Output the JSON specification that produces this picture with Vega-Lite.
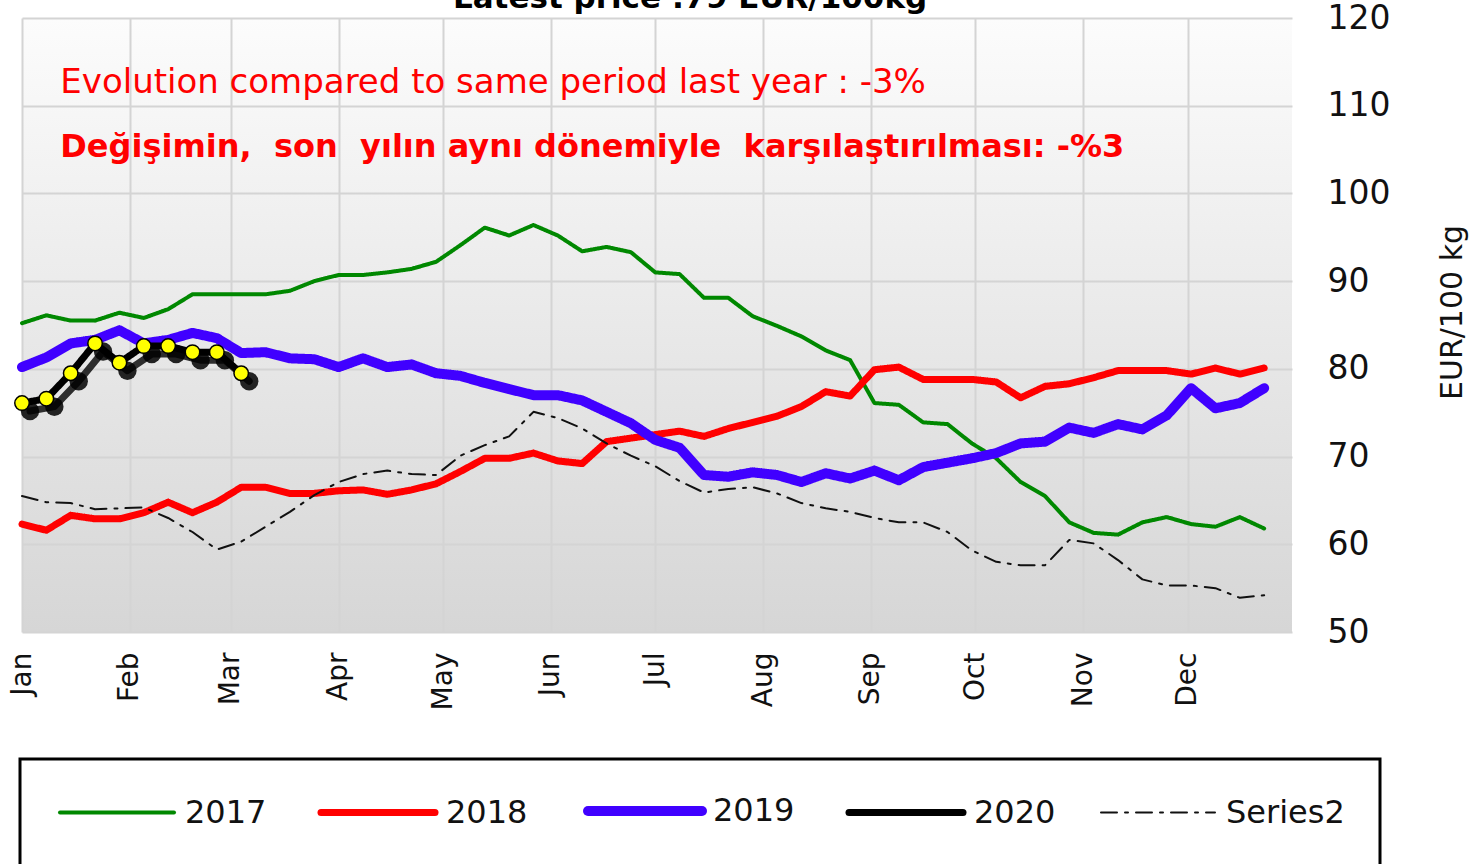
{
  "$schema": "https://vega.github.io/schema/vega-lite/v6.json",
  "width": 1270,
  "height": 614,
  "autosize": {"type": "none"},
  "padding": {"left": 22, "top": 18, "right": 191, "bottom": 232},
  "background": "white",
  "config": {
    "font": "DejaVu Sans",
    "view": {"stroke": null, "fill": {"gradient": "linear", "x1": 0, "y1": 0, "x2": 0, "y2": 1, "stops": [{"offset": 0, "color": "#fcfcfc"}, {"offset": 1, "color": "#d6d6d6"}]}}
  },
  "data": {"values": [
    {"d":"2020-01-01","s":"2017","v":85.2},{"d":"2020-01-08","s":"2017","v":86.1},{"d":"2020-01-15","s":"2017","v":85.5},{"d":"2020-01-22","s":"2017","v":85.5},{"d":"2020-01-29","s":"2017","v":86.4},{"d":"2020-02-05","s":"2017","v":85.8},{"d":"2020-02-12","s":"2017","v":86.8},{"d":"2020-02-19","s":"2017","v":88.5},{"d":"2020-02-26","s":"2017","v":88.5},{"d":"2020-03-04","s":"2017","v":88.5},{"d":"2020-03-11","s":"2017","v":88.5},{"d":"2020-03-18","s":"2017","v":88.9},{"d":"2020-03-25","s":"2017","v":90.0},{"d":"2020-04-01","s":"2017","v":90.7},{"d":"2020-04-08","s":"2017","v":90.7},{"d":"2020-04-15","s":"2017","v":91.0},{"d":"2020-04-22","s":"2017","v":91.4},{"d":"2020-04-29","s":"2017","v":92.2},{"d":"2020-05-06","s":"2017","v":94.1},{"d":"2020-05-13","s":"2017","v":96.1},{"d":"2020-05-20","s":"2017","v":95.2},{"d":"2020-05-27","s":"2017","v":96.4},{"d":"2020-06-03","s":"2017","v":95.2},{"d":"2020-06-10","s":"2017","v":93.4},{"d":"2020-06-17","s":"2017","v":93.9},{"d":"2020-06-24","s":"2017","v":93.3},{"d":"2020-07-01","s":"2017","v":91.0},{"d":"2020-07-08","s":"2017","v":90.8},{"d":"2020-07-15","s":"2017","v":88.1},{"d":"2020-07-22","s":"2017","v":88.1},{"d":"2020-07-29","s":"2017","v":86.0},{"d":"2020-08-05","s":"2017","v":84.9},{"d":"2020-08-12","s":"2017","v":83.7},{"d":"2020-08-19","s":"2017","v":82.1},{"d":"2020-08-26","s":"2017","v":81.0},{"d":"2020-09-02","s":"2017","v":76.1},{"d":"2020-09-09","s":"2017","v":75.9},{"d":"2020-09-16","s":"2017","v":73.9},{"d":"2020-09-23","s":"2017","v":73.7},{"d":"2020-09-30","s":"2017","v":71.5},{"d":"2020-10-07","s":"2017","v":69.8},{"d":"2020-10-14","s":"2017","v":67.1},{"d":"2020-10-21","s":"2017","v":65.5},{"d":"2020-10-28","s":"2017","v":62.5},{"d":"2020-11-04","s":"2017","v":61.3},{"d":"2020-11-11","s":"2017","v":61.1},{"d":"2020-11-18","s":"2017","v":62.5},{"d":"2020-11-25","s":"2017","v":63.1},{"d":"2020-12-02","s":"2017","v":62.3},{"d":"2020-12-09","s":"2017","v":62.0},{"d":"2020-12-16","s":"2017","v":63.1},{"d":"2020-12-23","s":"2017","v":61.8},
    {"d":"2020-01-01","s":"2018","v":62.3},{"d":"2020-01-08","s":"2018","v":61.6},{"d":"2020-01-15","s":"2018","v":63.3},{"d":"2020-01-22","s":"2018","v":62.9},{"d":"2020-01-29","s":"2018","v":62.9},{"d":"2020-02-05","s":"2018","v":63.6},{"d":"2020-02-12","s":"2018","v":64.8},{"d":"2020-02-19","s":"2018","v":63.6},{"d":"2020-02-26","s":"2018","v":64.8},{"d":"2020-03-04","s":"2018","v":66.5},{"d":"2020-03-11","s":"2018","v":66.5},{"d":"2020-03-18","s":"2018","v":65.8},{"d":"2020-03-25","s":"2018","v":65.8},{"d":"2020-04-01","s":"2018","v":66.1},{"d":"2020-04-08","s":"2018","v":66.2},{"d":"2020-04-15","s":"2018","v":65.7},{"d":"2020-04-22","s":"2018","v":66.2},{"d":"2020-04-29","s":"2018","v":66.9},{"d":"2020-05-06","s":"2018","v":68.3},{"d":"2020-05-13","s":"2018","v":69.8},{"d":"2020-05-20","s":"2018","v":69.8},{"d":"2020-05-27","s":"2018","v":70.4},{"d":"2020-06-03","s":"2018","v":69.5},{"d":"2020-06-10","s":"2018","v":69.2},{"d":"2020-06-17","s":"2018","v":71.7},{"d":"2020-06-24","s":"2018","v":72.1},{"d":"2020-07-01","s":"2018","v":72.5},{"d":"2020-07-08","s":"2018","v":72.9},{"d":"2020-07-15","s":"2018","v":72.3},{"d":"2020-07-22","s":"2018","v":73.2},{"d":"2020-07-29","s":"2018","v":73.9},{"d":"2020-08-05","s":"2018","v":74.6},{"d":"2020-08-12","s":"2018","v":75.7},{"d":"2020-08-19","s":"2018","v":77.4},{"d":"2020-08-26","s":"2018","v":76.9},{"d":"2020-09-02","s":"2018","v":79.9},{"d":"2020-09-09","s":"2018","v":80.2},{"d":"2020-09-16","s":"2018","v":78.8},{"d":"2020-09-23","s":"2018","v":78.8},{"d":"2020-09-30","s":"2018","v":78.8},{"d":"2020-10-07","s":"2018","v":78.5},{"d":"2020-10-14","s":"2018","v":76.7},{"d":"2020-10-21","s":"2018","v":78.0},{"d":"2020-10-28","s":"2018","v":78.3},{"d":"2020-11-04","s":"2018","v":79.0},{"d":"2020-11-11","s":"2018","v":79.8},{"d":"2020-11-18","s":"2018","v":79.8},{"d":"2020-11-25","s":"2018","v":79.8},{"d":"2020-12-02","s":"2018","v":79.4},{"d":"2020-12-09","s":"2018","v":80.1},{"d":"2020-12-16","s":"2018","v":79.4},{"d":"2020-12-23","s":"2018","v":80.1},
    {"d":"2020-01-01","s":"2019","v":80.2},{"d":"2020-01-08","s":"2019","v":81.3},{"d":"2020-01-15","s":"2019","v":82.9},{"d":"2020-01-22","s":"2019","v":83.3},{"d":"2020-01-29","s":"2019","v":84.4},{"d":"2020-02-05","s":"2019","v":82.9},{"d":"2020-02-12","s":"2019","v":83.3},{"d":"2020-02-19","s":"2019","v":84.1},{"d":"2020-02-26","s":"2019","v":83.5},{"d":"2020-03-04","s":"2019","v":81.8},{"d":"2020-03-11","s":"2019","v":81.9},{"d":"2020-03-18","s":"2019","v":81.2},{"d":"2020-03-25","s":"2019","v":81.1},{"d":"2020-04-01","s":"2019","v":80.2},{"d":"2020-04-08","s":"2019","v":81.2},{"d":"2020-04-15","s":"2019","v":80.2},{"d":"2020-04-22","s":"2019","v":80.5},{"d":"2020-04-29","s":"2019","v":79.5},{"d":"2020-05-06","s":"2019","v":79.2},{"d":"2020-05-13","s":"2019","v":78.4},{"d":"2020-05-20","s":"2019","v":77.7},{"d":"2020-05-27","s":"2019","v":77.0},{"d":"2020-06-03","s":"2019","v":77.0},{"d":"2020-06-10","s":"2019","v":76.4},{"d":"2020-06-17","s":"2019","v":75.1},{"d":"2020-06-24","s":"2019","v":73.8},{"d":"2020-07-01","s":"2019","v":71.9},{"d":"2020-07-08","s":"2019","v":71.0},{"d":"2020-07-15","s":"2019","v":67.9},{"d":"2020-07-22","s":"2019","v":67.7},{"d":"2020-07-29","s":"2019","v":68.2},{"d":"2020-08-05","s":"2019","v":67.9},{"d":"2020-08-12","s":"2019","v":67.1},{"d":"2020-08-19","s":"2019","v":68.1},{"d":"2020-08-26","s":"2019","v":67.5},{"d":"2020-09-02","s":"2019","v":68.4},{"d":"2020-09-09","s":"2019","v":67.3},{"d":"2020-09-16","s":"2019","v":68.8},{"d":"2020-09-23","s":"2019","v":69.3},{"d":"2020-09-30","s":"2019","v":69.8},{"d":"2020-10-07","s":"2019","v":70.4},{"d":"2020-10-14","s":"2019","v":71.5},{"d":"2020-10-21","s":"2019","v":71.7},{"d":"2020-10-28","s":"2019","v":73.3},{"d":"2020-11-04","s":"2019","v":72.7},{"d":"2020-11-11","s":"2019","v":73.7},{"d":"2020-11-18","s":"2019","v":73.1},{"d":"2020-11-25","s":"2019","v":74.7},{"d":"2020-12-02","s":"2019","v":77.8},{"d":"2020-12-09","s":"2019","v":75.5},{"d":"2020-12-16","s":"2019","v":76.1},{"d":"2020-12-23","s":"2019","v":77.8},
    {"d":"2020-01-01","s":"2020","v":76.1},{"d":"2020-01-08","s":"2020","v":76.6},{"d":"2020-01-15","s":"2020","v":79.5},{"d":"2020-01-22","s":"2020","v":82.9},{"d":"2020-01-29","s":"2020","v":80.7},{"d":"2020-02-05","s":"2020","v":82.6},{"d":"2020-02-12","s":"2020","v":82.6},{"d":"2020-02-19","s":"2020","v":81.9},{"d":"2020-02-26","s":"2020","v":81.9},{"d":"2020-03-04","s":"2020","v":79.5},
    {"d":"2020-01-01","s":"Series2","v":65.5},{"d":"2020-01-08","s":"Series2","v":64.8},{"d":"2020-01-15","s":"Series2","v":64.7},{"d":"2020-01-22","s":"Series2","v":64.0},{"d":"2020-01-29","s":"Series2","v":64.1},{"d":"2020-02-05","s":"Series2","v":64.2},{"d":"2020-02-12","s":"Series2","v":63.0},{"d":"2020-02-19","s":"Series2","v":61.4},{"d":"2020-02-26","s":"Series2","v":59.4},{"d":"2020-03-04","s":"Series2","v":60.3},{"d":"2020-03-11","s":"Series2","v":62.0},{"d":"2020-03-18","s":"Series2","v":63.7},{"d":"2020-03-25","s":"Series2","v":65.6},{"d":"2020-04-01","s":"Series2","v":67.1},{"d":"2020-04-08","s":"Series2","v":68.0},{"d":"2020-04-15","s":"Series2","v":68.4},{"d":"2020-04-22","s":"Series2","v":68.0},{"d":"2020-04-29","s":"Series2","v":67.9},{"d":"2020-05-06","s":"Series2","v":70.1},{"d":"2020-05-13","s":"Series2","v":71.3},{"d":"2020-05-20","s":"Series2","v":72.3},{"d":"2020-05-27","s":"Series2","v":75.1},{"d":"2020-06-03","s":"Series2","v":74.4},{"d":"2020-06-10","s":"Series2","v":73.2},{"d":"2020-06-17","s":"Series2","v":71.5},{"d":"2020-06-24","s":"Series2","v":70.1},{"d":"2020-07-01","s":"Series2","v":68.9},{"d":"2020-07-08","s":"Series2","v":67.2},{"d":"2020-07-15","s":"Series2","v":65.9},{"d":"2020-07-22","s":"Series2","v":66.3},{"d":"2020-07-29","s":"Series2","v":66.5},{"d":"2020-08-05","s":"Series2","v":65.8},{"d":"2020-08-12","s":"Series2","v":64.7},{"d":"2020-08-19","s":"Series2","v":64.1},{"d":"2020-08-26","s":"Series2","v":63.7},{"d":"2020-09-02","s":"Series2","v":63.0},{"d":"2020-09-09","s":"Series2","v":62.5},{"d":"2020-09-16","s":"Series2","v":62.5},{"d":"2020-09-23","s":"Series2","v":61.4},{"d":"2020-09-30","s":"Series2","v":59.3},{"d":"2020-10-07","s":"Series2","v":58.0},{"d":"2020-10-14","s":"Series2","v":57.6},{"d":"2020-10-21","s":"Series2","v":57.6},{"d":"2020-10-28","s":"Series2","v":60.5},{"d":"2020-11-04","s":"Series2","v":60.1},{"d":"2020-11-11","s":"Series2","v":58.2},{"d":"2020-11-18","s":"Series2","v":56.0},{"d":"2020-11-25","s":"Series2","v":55.3},{"d":"2020-12-02","s":"Series2","v":55.3},{"d":"2020-12-09","s":"Series2","v":55.0},{"d":"2020-12-16","s":"Series2","v":53.9},{"d":"2020-12-23","s":"Series2","v":54.2}
  ]},
  "layer": [
    {
      "mark": {"type": "line", "strokeCap": "round", "strokeJoin": "round"},
      "encoding": {
        "x": {"field": "d", "type": "temporal",
          "scale": {"type": "utc", "domain": [{"year": 2020, "month": 1, "date": 1, "utc": true}, {"year": 2020, "month": 12, "date": 31, "utc": true}]},
          "axis": {"title": null, "labelExpr": "utcFormat(datum.value, '%b')",
            "values": [{"year":2020,"month":1,"date":1,"utc":true},{"year":2020,"month":2,"date":1,"utc":true},{"year":2020,"month":3,"date":1,"utc":true},{"year":2020,"month":4,"date":1,"utc":true},{"year":2020,"month":5,"date":1,"utc":true},{"year":2020,"month":6,"date":1,"utc":true},{"year":2020,"month":7,"date":1,"utc":true},{"year":2020,"month":8,"date":1,"utc":true},{"year":2020,"month":9,"date":1,"utc":true},{"year":2020,"month":10,"date":1,"utc":true},{"year":2020,"month":11,"date":1,"utc":true},{"year":2020,"month":12,"date":1,"utc":true}],
            "labelAngle": 270, "labelFontSize": 28, "labelPadding": 20, "labelColor": "#111111", "ticks": false, "domain": false,
            "grid": true, "gridColor": "#d4d4d4", "gridWidth": 2, "labelFlush": false, "labelOverlap": false}},
        "y": {"field": "v", "type": "quantitative",
          "scale": {"domain": [50, 120], "nice": false, "zero": false},
          "axis": {"orient": "right", "title": "EUR/100 kg", "values": [50, 60, 70, 80, 90, 100, 110, 120],
            "labelFontSize": 33, "labelPadding": 35, "labelColor": "#111111", "ticks": false, "domain": false,
            "grid": true, "gridColor": "#d4d4d4", "gridWidth": 2,
            "titleFontSize": 30, "titleFontWeight": "normal", "titleColor": "#111111", "titleAngle": 270,
            "titleX": 160, "titleY": 294, "titleAlign": "center", "titleBaseline": "middle"}},
        "color": {"field": "s", "type": "nominal",
          "scale": {"domain": ["2017", "2018", "2019", "2020", "Series2"], "range": ["#008800", "#ff0000", "#4000ff", "#000000", "#111111"]},
          "legend": {"orient": "none", "legendX": -2, "legendY": 741, "direction": "horizontal", "columns": 5, "title": null,
            "symbolType": "M-4.75,0H4.75", "symbolSize": 576, "symbolOffset": 45, "labelFontSize": 32, "labelOffset": 51, "columnPadding": 40,
            "padding": 35, "strokeColor": "#000000", "fillColor": "white", "labelColor": "#111111", "labelLimit": 400,
            "encode": {
              "legend": {"update": {"strokeWidth": {"value": 3}}},
              "symbols": {"update": {"strokeCap": {"value": "round"}, "fill": {"value": "transparent"}, "strokeDash": {"signal": "datum.value === 'Series2' ? [16, 8, 3, 8] : null"}}}}}},
        "strokeWidth": {"field": "s", "type": "nominal",
          "scale": {"type": "ordinal", "domain": ["2017", "2018", "2019", "2020", "Series2"], "range": [4, 7, 10, 7, 2]}},
        "strokeDash": {"condition": {"test": "datum.s === 'Series2'", "value": [16, 8, 3, 8]}, "value": [1, 0]}
      }
    },
    {
      "transform": [{"filter": "datum.s === '2020'"}],
      "mark": {"type": "line", "color": "black", "strokeWidth": 7, "xOffset": 8, "yOffset": 8, "opacity": 0.8, "strokeCap": "round", "strokeJoin": "round"},
      "encoding": {"x": {"field": "d", "type": "temporal"}, "y": {"field": "v", "type": "quantitative"}}
    },
    {
      "transform": [{"filter": "datum.s === '2020'"}],
      "mark": {"type": "circle", "color": "black", "size": 340, "xOffset": 8, "yOffset": 8, "opacity": 0.85},
      "encoding": {"x": {"field": "d", "type": "temporal"}, "y": {"field": "v", "type": "quantitative"}}
    },
    {
      "transform": [{"filter": "datum.s === '2020'"}],
      "mark": {"type": "line", "color": "black", "strokeWidth": 5, "strokeCap": "round", "strokeJoin": "round"},
      "encoding": {"x": {"field": "d", "type": "temporal"}, "y": {"field": "v", "type": "quantitative"}}
    },
    {
      "transform": [{"filter": "datum.s === '2020'"}],
      "mark": {"type": "point", "shape": "circle", "filled": true, "fill": "#ffff00", "stroke": "black", "strokeWidth": 1.5, "size": 210, "opacity": 1},
      "encoding": {"x": {"field": "d", "type": "temporal"}, "y": {"field": "v", "type": "quantitative"}}
    },
    {
      "data": {"values": [{"t": "Latest price :79 EUR/100kg"}]},
      "mark": {"type": "text", "align": "center", "baseline": "alphabetic", "fontSize": 31, "fontWeight": "bold", "color": "#000000", "clip": false},
      "encoding": {
        "x": {"datum": {"year": 2020, "month": 7, "date": 11, "utc": true}, "type": "temporal"},
        "y": {"datum": 121.15, "type": "quantitative"},
        "text": {"field": "t"}
      }
    },
    {
      "data": {"values": [{"t": "Evolution compared to same period last year : -3%"}]},
      "mark": {"type": "text", "align": "left", "baseline": "alphabetic", "fontSize": 34, "color": "#ff0000"},
      "encoding": {
        "x": {"datum": {"year": 2020, "month": 1, "date": 12, "utc": true}, "type": "temporal"},
        "y": {"datum": 111.5, "type": "quantitative"},
        "text": {"field": "t"}
      }
    },
    {
      "data": {"values": [{"t": "Değişimin, \u00a0son \u00a0yılın aynı dönemiyle \u00a0karşılaştırılması: -%3"}]},
      "mark": {"type": "text", "align": "left", "baseline": "alphabetic", "fontSize": 32, "fontWeight": "bold", "color": "#ff0000"},
      "encoding": {
        "x": {"datum": {"year": 2020, "month": 1, "date": 12, "utc": true}, "type": "temporal"},
        "y": {"datum": 104.2, "type": "quantitative"},
        "text": {"field": "t"}
      }
    }
  ]
}
